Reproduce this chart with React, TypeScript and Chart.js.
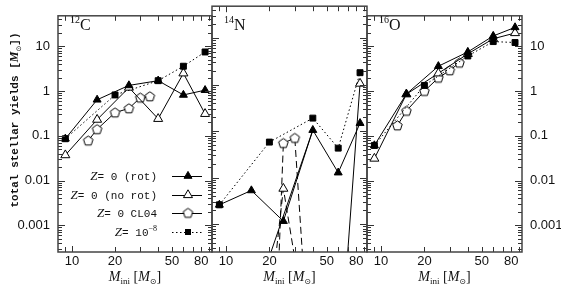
import React, { useEffect, useRef } from 'react';
import { Chart, registerables } from 'chart.js';
Chart.register(...registerables);

const W = 561;
const H = 287;
const X_MIN = 8;
const X_MAX = 95;
const Y_MIN = 2.52e-4;
const Y_MAX = 48.3;

const xTickLabels = [10, 20, 50, 80];
const xTickMarks = [9, 10, 20, 30, 40, 50, 60, 70, 80, 90];
const yTickLabels = [0.001, 0.01, 0.1, 1, 10];

// ---- initial masses of each model set ----
const massRot = [9, 15, 25, 40, 60, 85];
const massNoRot = [9, 15, 25, 40, 60, 85];
const massCL04 = [13, 15, 20, 25, 30, 35];
const massZ8 = [9, 20, 40, 60, 85];

// ---- 12C yields ----
const c12Rot = [0.086, 0.64, 1.34, 1.71, 0.82, 1.05];
const c12NoRot = [0.037, 0.23, 1.2, 0.24, 2.5, 0.31];
const c12CL04 = [0.078, 0.14, 0.33, 0.41, 0.71, 0.76];
const c12Z8 = [0.086, 0.82, 1.71, 3.6, 7.5];

// ---- 14N yields ----
const n14Rot = [0.0026, 0.0053, 0.00116, 0.105, 0.0128, 0.148];
const n14NoRotMass = [20, 25, 40, 60, 85];
const n14NoRot = [1.2e-5, 0.0058, 8e-7, 4e-7, 1.05];
const n14CL04Mass = [20, 25, 30, 35];
const n14CL04 = [1e-9, 0.055, 0.071, 5e-5];
const n14Z8 = [0.0026, 0.058, 0.19, 0.043, 1.8];
const n14BranchMass = [20, 40];
const n14Branch = [2e-4, 0.105];

// ---- 16O yields ----
const o16Rot = [0.061, 0.86, 3.6, 7.5, 17.1, 26.6];
const o16NoRot = [0.031, 0.85, 2.5, 6.8, 14.8, 19.9];
const o16CL04 = [0.17, 0.36, 1.0, 1.98, 2.9, 4.3];
const o16Z8 = [0.061, 1.34, 6.1, 12.8, 12.2];

const SERIF = '"Liberation Serif", "DejaVu Serif", serif';
const MONO = '"Liberation Mono", "DejaVu Sans Mono", monospace';
const SANS = '"Liberation Sans", Arial, sans-serif';
const SYM = '"DejaVu Sans", sans-serif';
const INK = '#111';

type Run = { t: string; f: string; dy?: number };

function drawRuns(ctx: CanvasRenderingContext2D, runs: Run[], x: number, y: number, align: 'left' | 'center' | 'right') {
  let total = 0;
  const widths = runs.map((r) => {
    ctx.font = r.f;
    const w = ctx.measureText(r.t).width;
    total += w;
    return w;
  });
  let cx = align === 'left' ? x : align === 'center' ? x - total / 2 : x - total;
  ctx.textAlign = 'left';
  runs.forEach((r, i) => {
    ctx.font = r.f;
    ctx.fillText(r.t, cx, y + (r.dy || 0));
    cx += widths[i];
  });
}

function makePentagon(): HTMLCanvasElement {
  const c = document.createElement('canvas');
  c.width = 13;
  c.height = 13;
  const g = c.getContext('2d')!;
  const r = 5;
  g.beginPath();
  for (let i = 0; i < 5; i++) {
    const a = -Math.PI / 2 + (i * 2 * Math.PI) / 5;
    const px = 6.5 + r * Math.cos(a);
    const py = 6.8 + r * Math.sin(a);
    if (i === 0) g.moveTo(px, py);
    else g.lineTo(px, py);
  }
  g.closePath();
  g.fillStyle = '#fff';
  g.fill();
  g.strokeStyle = '#000';
  g.lineWidth = 1;
  g.stroke();
  return c;
}

const pts = (m: number[], v: number[]) => m.map((x, i) => ({ x, y: v[i] }));

type PanelDef = {
  label: string;
  iso: string;
  plotLeft: number;
  plotRight: number;
  yPos: 'left' | 'right' | 'none';
  rot: [number[], number[]];
  noRot: [number[], number[]];
  cl: [number[], number[]];
  z8: [number[], number[]];
  branch?: [number[], number[]];
  dashed?: boolean;
};

const panels: PanelDef[] = [
  { label: 'C', iso: '12', plotLeft: 58, plotRight: 212, yPos: 'left',
    rot: [massRot, c12Rot], noRot: [massNoRot, c12NoRot], cl: [massCL04, c12CL04], z8: [massZ8, c12Z8] },
  { label: 'N', iso: '14', plotLeft: 212, plotRight: 367, yPos: 'none',
    rot: [massRot, n14Rot], noRot: [n14NoRotMass, n14NoRot], cl: [n14CL04Mass, n14CL04], z8: [massZ8, n14Z8],
    branch: [n14BranchMass, n14Branch], dashed: true },
  { label: 'O', iso: '16', plotLeft: 367, plotRight: 522, yPos: 'right',
    rot: [massRot, o16Rot], noRot: [massNoRot, o16NoRot], cl: [massCL04, o16CL04], z8: [massZ8, o16Z8] },
];

function drawTri(ctx: CanvasRenderingContext2D, x: number, y: number, r: number, fill: string) {
  ctx.beginPath();
  for (let i = 0; i < 3; i++) {
    const a = -Math.PI / 2 + (i * 2 * Math.PI) / 3;
    const px = x + r * Math.cos(a);
    const py = y + r * Math.sin(a);
    if (i === 0) ctx.moveTo(px, py);
    else ctx.lineTo(px, py);
  }
  ctx.closePath();
  ctx.fillStyle = fill;
  ctx.fill();
  ctx.strokeStyle = '#000';
  ctx.lineWidth = 1;
  ctx.stroke();
}

function buildConfig(p: PanelDef, idx: number, pent: HTMLCanvasElement): any {
  const base = { borderColor: '#000', borderWidth: 1, tension: 0, fill: false, pointBorderColor: '#000', pointBorderWidth: 1 };
  const longDash = [7, 4];
  const datasets: any[] = [
    { ...base, data: pts(p.z8[0], p.z8[1]), borderDash: [1.5, 2.5], pointStyle: 'rect', pointRadius: 4.2, pointBackgroundColor: '#000' },
    { ...base, data: pts(p.rot[0], p.rot[1]), pointStyle: 'triangle', pointRadius: 4.6, pointBackgroundColor: '#000' },
    { ...base, data: pts(p.noRot[0], p.noRot[1]), pointStyle: 'triangle', pointRadius: 5.2, pointBackgroundColor: '#fff',
      segment: p.dashed ? { borderDash: (c: any) => (c.p0DataIndex < 3 ? longDash : []) } : undefined },
    { ...base, data: pts(p.cl[0], p.cl[1]), pointStyle: pent, pointRadius: 5, pointBackgroundColor: '#fff',
      borderDash: p.dashed ? longDash : [] },
  ];
  if (p.branch) datasets.push({ ...base, data: pts(p.branch[0], p.branch[1]), pointRadius: 0 });

  const decorations = {
    id: 'decor' + idx,
    afterDraw(chart: any) {
      const { ctx, chartArea: a, scales } = chart;
      const xs = scales.x;
      const ys = scales.y;
      ctx.save();
      ctx.strokeStyle = '#333';
      ctx.lineWidth = 1;
      ctx.beginPath();
      for (const m of xTickMarks) {
        const px = Math.round(xs.getPixelForValue(m)) + 0.5;
        const len = m === 10 ? 6 : 5;
        ctx.moveTo(px, a.bottom);
        ctx.lineTo(px, a.bottom - len);
        ctx.moveTo(px, a.top);
        ctx.lineTo(px, a.top + len);
      }
      for (let d = -4; d <= 1; d++) {
        for (let k = 1; k <= 9; k++) {
          const v = k * Math.pow(10, d);
          if (v < Y_MIN || v > Y_MAX) continue;
          const py = Math.round(ys.getPixelForValue(v)) + 0.5;
          const len = k === 1 ? 7 : 4;
          ctx.moveTo(a.left, py);
          ctx.lineTo(a.left + len, py);
          ctx.moveTo(a.right, py);
          ctx.lineTo(a.right - len, py);
        }
      }
      ctx.stroke();
      ctx.strokeStyle = '#444';
      ctx.lineWidth = 1.5;
      ctx.strokeRect(a.left, a.top, a.right - a.left, a.bottom - a.top);

      ctx.fillStyle = INK;
      ctx.textBaseline = 'alphabetic';
      // isotope label
      const lx = a.left + 12;
      drawRuns(ctx, [
        { t: p.iso, f: `10px ${SERIF}`, dy: -7 },
        { t: p.label, f: `16px ${SERIF}` },
      ], lx, 30, 'left');

      // x title
      const cx = (a.left + a.right) / 2;
      drawRuns(ctx, [
        { t: 'M', f: `italic 14px ${SERIF}` },
        { t: 'ini', f: `9px ${SERIF}`, dy: 3 },
        { t: ' [', f: `14px ${SERIF}` },
        { t: 'M', f: `italic 14px ${SERIF}` },
        { t: '\u2299', f: `8px ${SYM}`, dy: 3 },
        { t: ']', f: `14px ${SERIF}` },
      ], cx, 281, 'center');

      if (idx === 0) {
        // y title
        ctx.save();
        ctx.translate(14, 120);
        ctx.rotate(-Math.PI / 2);
        drawRuns(ctx, [
          { t: 'total stellar yields [', f: `bold 11px ${MONO}` },
          { t: 'M', f: `italic bold 12px ${SERIF}` },
          { t: '\u2299', f: `7px ${SYM}`, dy: 3 },
          { t: '])', f: `bold 11px ${MONO}` },
        ], 0, 4, 'center');
        ctx.restore();

        // legend
        const rows = [176, 195, 213, 232];
        const texts: Run[][] = [
          [{ t: 'Z', f: `italic 13px ${SERIF}` }, { t: '= 0 (rot)', f: `11px ${MONO}` }],
          [{ t: 'Z', f: `italic 13px ${SERIF}` }, { t: '= 0 (no rot)', f: `11px ${MONO}` }],
          [{ t: 'Z', f: `italic 13px ${SERIF}` }, { t: '= 0 CL04', f: `11px ${MONO}` }],
          [{ t: 'Z', f: `italic 13px ${SERIF}` }, { t: '= 10', f: `11px ${MONO}` }, { t: '\u22128', f: `8px ${SERIF}`, dy: -5 }],
        ];
        rows.forEach((ry, i) => {
          ctx.fillStyle = INK;
          drawRuns(ctx, texts[i], 157, ry + 4, 'right');
          ctx.strokeStyle = '#000';
          ctx.lineWidth = 1;
          ctx.setLineDash(i === 3 ? [1.5, 2.5] : []);
          ctx.beginPath();
          ctx.moveTo(172, ry + 0.5);
          ctx.lineTo(202, ry + 0.5);
          ctx.stroke();
          ctx.setLineDash([]);
          const mx = 188;
          if (i === 0) drawTri(ctx, mx, ry, 4.6, '#000');
          else if (i === 1) drawTri(ctx, mx, ry, 5.2, '#fff');
          else if (i === 2) ctx.drawImage(pent, mx - pent.width / 2, ry - pent.height / 2);
          else {
            ctx.fillStyle = '#000';
            ctx.fillRect(mx - 3, ry - 3, 6, 6);
          }
        });
      }
      ctx.restore();
    },
  };

  const yScale: any = {
    type: 'logarithmic',
    min: Y_MIN,
    max: Y_MAX,
    display: p.yPos !== 'none',
    position: p.yPos === 'right' ? 'right' : 'left',
    grid: { display: false, drawTicks: false },
    border: { display: false },
    ticks: {
      autoSkip: false,
      padding: 8,
      color: INK,
      font: { family: SANS, size: 13 },
      callback: (v: number) => String(v),
    },
    afterBuildTicks: (s: any) => { s.ticks = yTickLabels.map((v) => ({ value: v })); },
    afterFit: (s: any) => {
      if (p.yPos === 'none') s.width = 0;
      else s.width = p.yPos === 'right' ? W - p.plotRight : p.plotLeft;
    },
  };

  const padLeft = p.yPos === 'left' ? 0 : p.plotLeft;
  const padRight = p.yPos === 'right' ? 0 : W - p.plotRight;

  return {
    type: 'line',
    data: { datasets },
    options: {
      animation: false,
      responsive: false,
      maintainAspectRatio: false,
      devicePixelRatio: 1,
      events: [],
      layout: { padding: { left: padLeft, right: padRight, top: 5, bottom: 0 } },
      plugins: { legend: { display: false }, tooltip: { enabled: false } },
      scales: {
        x: {
          type: 'logarithmic',
          min: X_MIN,
          max: X_MAX,
          position: 'bottom',
          grid: { display: false, drawTicks: false },
          border: { display: false },
          ticks: {
            autoSkip: false,
            maxRotation: 0,
            padding: 2,
            color: INK,
            font: { family: SANS, size: 13 },
            callback: (v: number) => String(v),
          },
          afterBuildTicks: (s: any) => { s.ticks = xTickLabels.map((v) => ({ value: v })); },
          afterFit: (s: any) => { s.height = H - 252; },
        },
        y: yScale,
      },
    },
    plugins: [decorations],
  };
}

export default function App() {
  const r1 = useRef<HTMLCanvasElement>(null);
  const r2 = useRef<HTMLCanvasElement>(null);
  const r3 = useRef<HTMLCanvasElement>(null);
  useEffect(() => {
    const pent = makePentagon();
    const refs = [r1, r2, r3];
    const charts = panels.map((p, i) => new Chart(refs[i].current as HTMLCanvasElement, buildConfig(p, i, pent)));
    return () => charts.forEach((c) => c.destroy());
  }, []);
  return (
    <div style={{ position: 'fixed', left: 0, top: 0, width: W, height: H, background: '#fff' }}>
      {[r1, r2, r3].map((r, i) => (
        <canvas key={i} ref={r} width={W} height={H} style={{ position: 'absolute', left: 0, top: 0, width: W, height: H }} />
      ))}
    </div>
  );
}
